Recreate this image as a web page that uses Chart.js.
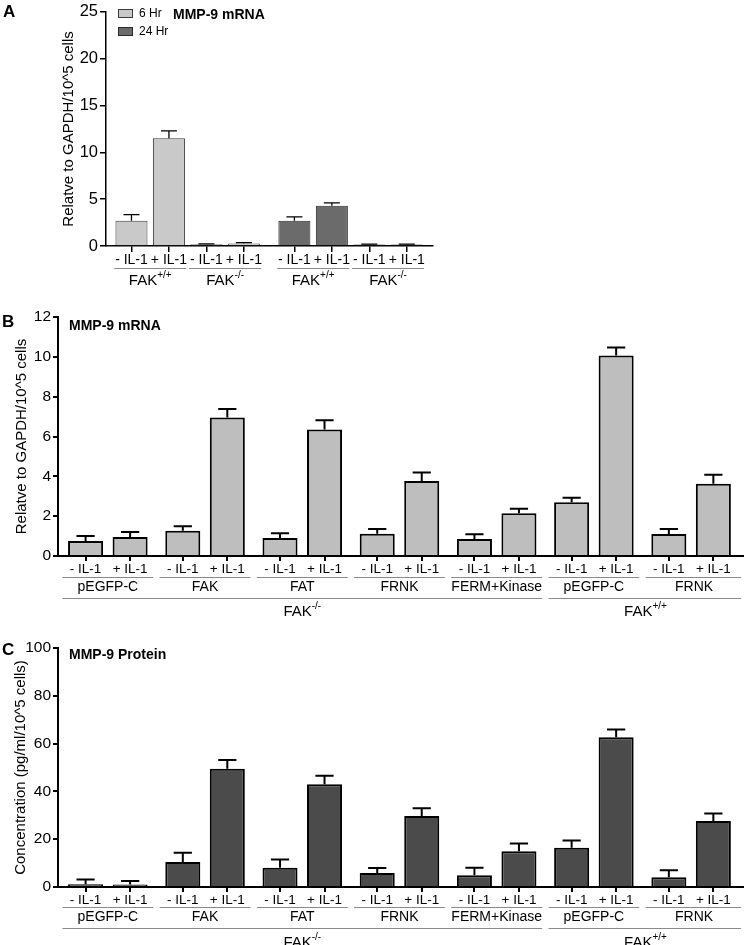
<!DOCTYPE html>
<html><head><meta charset="utf-8">
<script src="https://cdn.jsdelivr.net/npm/chart.js@4.4.0/dist/chart.umd.min.js"></script>
<style>
html,body{margin:0;padding:0;background:#fff;}
#wrap{position:relative;width:745px;height:945px;overflow:hidden;font-family:"Liberation Sans",Arial,sans-serif;}
.pl{position:absolute;font-weight:bold;font-size:17px;color:#000;line-height:17px;}
canvas{position:absolute;left:0;}
</style></head><body>
<div id="wrap">
  <canvas id="cA" width="445" height="300" style="top:0"></canvas>
  <canvas id="cB" width="745" height="320" style="top:300px"></canvas>
  <canvas id="cC" width="745" height="325" style="top:620px"></canvas>
  <div class="pl" style="left:3px;top:3px">A</div>
  <div class="pl" style="left:2px;top:313px">B</div>
  <div class="pl" style="left:2px;top:641px">C</div>
</div>
<script>
// ---------------- DATA ----------------
// Panel A
const treatA = ['- IL-1', '+ IL-1', '- IL-1', '+ IL-1', '- IL-1', '+ IL-1', '- IL-1', '+ IL-1'];
const genotypeA = ['+/+', '-/-', '+/+', '-/-'];
const hr6 = [2.7, 11.5, 0.18, 0.28];
const hr6Err = [0.65, 0.8, 0.05, 0.08];
const hr24 = [2.7, 4.3, 0.15, 0.15];
const hr24Err = [0.4, 0.3, 0.05, 0.05];
const yTicksA = [0, 5, 10, 15, 20, 25];

// Panels B and C
const treatBC = ['- IL-1', '+ IL-1', '- IL-1', '+ IL-1', '- IL-1', '+ IL-1', '- IL-1', '+ IL-1',
                 '- IL-1', '+ IL-1', '- IL-1', '+ IL-1', '- IL-1', '+ IL-1'];
const constructs = ['pEGFP-C', 'FAK', 'FAT', 'FRNK', 'FERM+Kinase', 'pEGFP-C', 'FRNK'];
const cellLines = ['-/-', '+/+'];
const cellLineGroups = [[0, 4], [5, 6]]; // construct index ranges
const mrnaB = [0.75, 0.95, 1.27, 6.95, 0.9, 6.35, 1.12, 3.77, 0.85, 2.15, 2.7, 10.07, 1.1, 3.63];
const mrnaBErr = [0.25, 0.25, 0.22, 0.43, 0.24, 0.47, 0.24, 0.42, 0.24, 0.22, 0.22, 0.4, 0.25, 0.45];
const yTicksB = [0, 2, 4, 6, 8, 10, 12];
const protC = [1.1, 1.0, 10.5, 49.5, 8.1, 43.0, 5.9, 29.7, 4.9, 15.0, 16.4, 62.7, 4.1, 27.6];
const protCErr = [2.0, 1.5, 3.8, 3.6, 3.4, 3.5, 2.1, 3.2, 3.2, 3.2, 3.1, 3.2, 2.9, 3.2];
const yTicksC = [0, 20, 40, 60, 80, 100];

// ---------------- LAYOUT HELPERS ----------------
const FONT = '"Liberation Sans", Arial, sans-serif';
const posA = i => i + (i >= 4 ? 0.35 : 0);
const posBC = i => Math.floor(i / 2) * 2.184 + (i % 2);

function drawSup(ctx, base, sup, cx, cy, size, supSize) {
  ctx.font = size + 'px ' + FONT;
  const wb = ctx.measureText(base).width;
  ctx.font = supSize + 'px ' + FONT;
  const ws = sup ? ctx.measureText(sup).width : 0;
  const x0 = cx - (wb + ws) / 2;
  ctx.textAlign = 'left'; ctx.textBaseline = 'middle'; ctx.fillStyle = '#000';
  ctx.font = size + 'px ' + FONT;
  ctx.fillText(base, x0, cy);
  if (sup) {
    ctx.font = supSize + 'px ' + FONT;
    ctx.fillText(sup, x0 + wb, cy - size * 0.38);
  }
}

const errorBars = {
  id: 'errorBars',
  afterDatasetsDraw(chart, args, o) {
    const ctx = chart.ctx, ys = chart.scales.y;
    chart.data.datasets.forEach((ds, di) => {
      const meta = chart.getDatasetMeta(di);
      meta.data.forEach((bar, i) => {
        const v = ds.data[i].y, e = ds.errors[i];
        const yTop = ys.getPixelForValue(v + e);
        const half = bar.width * o.cap / 2;
        ctx.save();
        ctx.strokeStyle = '#000'; ctx.lineWidth = o.width;
        ctx.beginPath();
        ctx.moveTo(bar.x, bar.y); ctx.lineTo(bar.x, yTop);
        ctx.moveTo(bar.x - half, yTop); ctx.lineTo(bar.x + half, yTop);
        ctx.stroke();
        ctx.restore();
      });
    });
  }
};

const groupAxis = {
  id: 'groupAxis',
  afterDraw(chart, args, o) {
    const ctx = chart.ctx, xs = chart.scales.x, base = chart.chartArea.bottom;
    const unit = Math.abs(xs.getPixelForValue(1) - xs.getPixelForValue(0));
    ctx.save();
    o.levels.forEach(level => {
      level.groups.forEach((g, gi) => {
        const x1 = xs.getPixelForValue(g.from) - unit * level.ext;
        let x2 = xs.getPixelForValue(g.to) + unit * level.ext;
        if (level.toEdge && gi === level.groups.length - 1) x2 = chart.chartArea.right - 2;
        ctx.strokeStyle = o.lineColor; ctx.lineWidth = 1;
        ctx.beginPath();
        ctx.moveTo(x1, Math.round(base + level.lineY) + 0.5);
        ctx.lineTo(x2, Math.round(base + level.lineY) + 0.5);
        ctx.stroke();
        const cx = (xs.getPixelForValue(g.from) + xs.getPixelForValue(g.to)) / 2 +
                   (level.toEdge && gi === level.groups.length - 1 ? 3 : 0);
        drawSup(ctx, g.base, g.sup, cx, base + level.textY, level.size, level.supSize);
      });
    });
    ctx.restore();
  }
};

const extras = {
  id: 'extras',
  afterDraw(chart, args, o) {
    const ctx = chart.ctx;
    ctx.save();
    ctx.fillStyle = '#000'; ctx.textBaseline = 'middle'; ctx.textAlign = 'left';
    ctx.font = 'bold 14px ' + FONT;
    ctx.fillText(o.title, o.tx, o.ty);
    if (o.legend) {
      chart.data.datasets.forEach((ds, i) => {
        const y = o.ly + i * 18;
        ctx.fillStyle = ds.backgroundColor;
        ctx.fillRect(o.lx, y, 15, 9);
        ctx.strokeStyle = ds.borderColor; ctx.lineWidth = 1;
        ctx.strokeRect(o.lx + 0.5, y + 0.5, 14, 8);
        ctx.fillStyle = '#000';
        ctx.font = '12px ' + FONT;
        ctx.fillText(ds.label, o.lx + 21, y + 5);
      });
    }
    ctx.restore();
  }
};

function makeOptions(cfg) {
  return {
    responsive: false,
    animation: false,
    layout: { padding: cfg.padding },
    plugins: {
      legend: { display: false },
      tooltip: { enabled: false },
      errorBars: { cap: cfg.cap, width: cfg.errWidth },
      groupAxis: { levels: cfg.levels, lineColor: '#8a8a8a' },
      extras: cfg.extras
    },
    scales: {
      x: {
        type: 'linear', min: cfg.xmin, max: cfg.xmax, offset: false,
        afterBuildTicks: s => { s.ticks = cfg.xpos.map(v => ({ value: v })); },
        afterFit: s => { s.height = cfg.xHeight; },
        ticks: {
          autoSkip: false, maxRotation: 0, minRotation: 0, padding: cfg.xPad, color: '#000',
          font: { family: FONT, size: cfg.xFont },
          callback: (v, i) => cfg.xlabels[i]
        },
        grid: { display: true, drawOnChartArea: false, drawTicks: true, tickLength: cfg.tickLen,
                color: '#000', lineWidth: cfg.axisW, offset: false },
        border: { display: true, color: '#000', width: cfg.axisW }
      },
      y: {
        min: cfg.yticks[0], max: cfg.yticks[cfg.yticks.length - 1],
        afterBuildTicks: s => { s.ticks = cfg.yticks.map(v => ({ value: v })); },
        afterFit: s => { s.width = cfg.yWidth; },
        ticks: { padding: 2, color: '#000', font: { family: FONT, size: cfg.yFont } },
        grid: { display: true, drawOnChartArea: false, drawTicks: true, tickLength: cfg.tickLen,
                color: '#000', lineWidth: cfg.axisW },
        border: { display: true, color: '#000', width: cfg.axisW },
        title: { display: true, text: cfg.ytitle, color: '#000', padding: { top: 0, bottom: 0 },
                 font: { family: FONT, size: 15 } }
      }
    }
  };
}

// ---------------- PANEL A ----------------
const xposA = treatA.map((t, i) => posA(i));
new Chart(document.getElementById('cA'), {
  type: 'bar',
  data: {
    datasets: [
      { label: '6 Hr', data: hr6.map((v, i) => ({ x: posA(i), y: v })), errors: hr6Err,
        backgroundColor: '#c9c9c9', borderColor: '#3a3a3a', borderWidth: 1,
        grouped: false, categoryPercentage: 1, barPercentage: 0.855 },
      { label: '24 Hr', data: hr24.map((v, i) => ({ x: posA(i + 4), y: v })), errors: hr24Err,
        backgroundColor: '#6b6b6b', borderColor: '#2a2a2a', borderWidth: 1,
        grouped: false, categoryPercentage: 1, barPercentage: 0.855 }
    ]
  },
  options: makeOptions({
    padding: { left: 60, top: 9, right: 12, bottom: 0 },
    xmin: -0.68, xmax: 8.05, xpos: xposA, xlabels: treatA, xHeight: 54, xPad: 0, xFont: 14,
    tickLen: 6, axisW: 1.5, yticks: yTicksA, yWidth: 46, yFont: 16.5, cap: 0.5, errWidth: 1.3,
    ytitle: 'Relatve to GAPDH/10^5 cells',
    levels: [{ ext: 0.46, lineY: 22, textY: 35, size: 15, supSize: 10,
      groups: genotypeA.map((g, k) => ({ from: posA(2 * k), to: posA(2 * k + 1), base: 'FAK', sup: g })) }],
    extras: { title: 'MMP-9 mRNA', tx: 173, ty: 15, legend: true, lx: 118, ly: 9 }
  }),
  plugins: [errorBars, groupAxis, extras]
});

// ---------------- PANELS B & C ----------------
const xposBC = treatBC.map((t, i) => posBC(i));
const constructGroups = constructs.map((c, k) => ({ from: posBC(2 * k), to: posBC(2 * k + 1), base: c, sup: '' }));
const lineGroups = cellLines.map((c, k) => ({
  from: posBC(2 * cellLineGroups[k][0]), to: posBC(2 * cellLineGroups[k][1] + 1), base: 'FAK', sup: c }));

function panelBC(id, vals, errs, color, yticks, ytitle, title, cfg) {
  new Chart(document.getElementById(id), {
    type: 'bar',
    data: {
      datasets: [{ label: title, data: vals.map((v, i) => ({ x: posBC(i), y: v })), errors: errs,
        backgroundColor: color, borderColor: '#000', borderWidth: 2,
        grouped: false, categoryPercentage: 1, barPercentage: 0.787 }]
    },
    options: makeOptions({
      padding: cfg.padding,
      xmin: -0.62, xmax: 14.77, xpos: xposBC, xlabels: treatBC, xHeight: cfg.xHeight, xPad: 0, xFont: 13.5,
      tickLen: 5, axisW: 2, yticks: yticks, yWidth: cfg.yWidth, yFont: 15.5, cap: 0.52, errWidth: 2,
      ytitle: ytitle,
      levels: [
        { ext: 0.52, lineY: cfg.l1, textY: cfg.t1, size: 14, supSize: 10, groups: constructGroups, toEdge: true },
        { ext: 0.52, lineY: cfg.l2, textY: cfg.t2, size: 15, supSize: 10, groups: lineGroups, toEdge: true }
      ],
      extras: { title: title, tx: 69, ty: cfg.titleY, legend: false }
    }),
    plugins: [errorBars, groupAxis, extras]
  });
}

panelBC('cB', mrnaB, mrnaBErr, '#bebebe', yTicksB, 'Relatve to GAPDH/10^5 cells', 'MMP-9 mRNA',
  { padding: { left: 13, top: 17, right: 2, bottom: 0 }, yWidth: 45, xHeight: 64,
    l1: 21.3, t1: 31.3, l2: 42.3, t2: 56.3, titleY: 26 });

panelBC('cC', protC, protCErr, '#4b4b4b', yTicksC, 'Concentration (pg/ml/10^5 cells)', 'MMP-9 Protein',
  { padding: { left: 12, top: 28, right: 2, bottom: 0 }, yWidth: 46, xHeight: 58,
    l1: 20.3, t1: 30.3, l2: 41.3, t2: 56, titleY: 35 });
</script>
</body></html>
